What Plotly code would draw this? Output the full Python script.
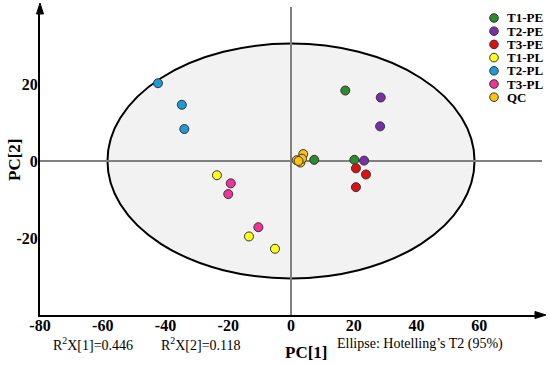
import plotly.graph_objects as go

# ---- data ----
groups = ["T1-PE", "T2-PE", "T3-PE", "T1-PL", "T2-PL", "T3-PL", "QC"]
colors = ["#2E8B2E", "#7B2FA6", "#E01010", "#FFFF1A", "#1E9BD7", "#F0339A", "#FFC20E"]
pc1 = {
    "T1-PE": [17.3, 7.4, 20.2],
    "T2-PE": [28.6, 28.4, 23.3],
    "T3-PE": [20.7, 23.9, 20.7],
    "T1-PL": [-23.6, -13.4, -5.1],
    "T2-PL": [-42.4, -34.8, -34.0],
    "T3-PL": [-19.2, -20.0, -10.4],
    "QC":    [1.8, 3.0, 3.9, 3.5, 2.4],
}
pc2 = {
    "T1-PE": [18.3, 0.3, 0.3],
    "T2-PE": [16.5, 9.0, 0.1],
    "T3-PE": [-1.9, -3.5, -6.8],
    "T1-PL": [-3.7, -19.6, -22.8],
    "T2-PL": [20.2, 14.6, 8.3],
    "T3-PL": [-5.8, -8.6, -17.2],
    "QC":    [0.2, -0.4, 1.8, 0.6, 0.0],
}
ellipse_a = 58.5   # semi-axis on PC[1]
ellipse_b = 30.5   # semi-axis on PC[2]
x_ticks = [-80, -60, -40, -20, 0, 20, 40, 60]
y_ticks = [-20, 0, 20]
r2x = ["R<sup>2</sup>X[1]=0.446", "R<sup>2</sup>X[2]=0.118"]
ellipse_note = "Ellipse: Hotelling’s T2 (95%)"

SERIF = "Liberation Serif, Times New Roman, serif"

fig = go.Figure()

# Hotelling ellipse
fig.add_shape(type="circle", xref="x", yref="y",
              x0=-ellipse_a, x1=ellipse_a, y0=-ellipse_b, y1=ellipse_b,
              fillcolor="#F2F2F2", line=dict(color="black", width=2), layer="below")

for g, c in zip(groups, colors):
    fig.add_trace(go.Scatter(
        x=pc1[g], y=pc2[g], mode="markers", name=g, showlegend=False,
        marker=dict(size=9, color=c, line=dict(color="#333333", width=1)),
    ))

# plot area in pixels: x 40..542, y 7..315
L, R, T, B = 40, 542, 7, 315
W, H = R - L, B - T
def px(x):
    return (x - L) / W
def py(y):
    return (B - y) / H

# manual legend
for i, (g, c) in enumerate(zip(groups, colors)):
    yc = 18 + 13.2 * i
    fig.add_shape(type="circle", xref="paper", yref="paper",
                  x0=px(494 - 4.3), x1=px(494 + 4.3), y0=py(yc + 4.3), y1=py(yc - 4.3),
                  fillcolor=c, line=dict(color="#333333", width=1))
    fig.add_annotation(x=px(506), y=py(yc), xref="paper", yref="paper",
                       text="<b>%s</b>" % g, showarrow=False, xanchor="left", yanchor="middle",
                       height=13, borderpad=0,
                       font=dict(family=SERIF, size=13, color="black"))

# axis arrows
fig.add_shape(type="path", xref="paper", yref="paper",
              path="M %f %f L %f %f L %f %f Z" % (px(36.5), py(14), px(40), py(3), px(43.5), py(14)),
              fillcolor="black", line=dict(color="black", width=1))
fig.add_shape(type="path", xref="paper", yref="paper",
              path="M %f %f L %f %f L %f %f Z" % (px(535), py(311.5), px(546), py(315), px(535), py(318.5)),
              fillcolor="black", line=dict(color="black", width=1))

# bottom texts
for xpix, t in [(93, r2x[0]), (201, r2x[1]), (420, ellipse_note)]:
    fig.add_annotation(x=px(xpix), y=py(344), xref="paper", yref="paper", text=t,
                       showarrow=False, xanchor="center", yanchor="middle",
                       font=dict(family=SERIF, size=14, color="black"))
fig.add_annotation(x=px(306), y=py(352), xref="paper", yref="paper", text="<b>PC[1]</b>",
                   showarrow=False, xanchor="center", yanchor="middle",
                   font=dict(family=SERIF, size=17, color="black"))
fig.add_annotation(x=px(14), y=py(160), xref="paper", yref="paper", text="<b>PC[2]</b>",
                   showarrow=False, xanchor="center", yanchor="middle", textangle=-90,
                   font=dict(family=SERIF, size=17, color="black"))

fig.update_xaxes(range=[-80, 80], tickvals=x_ticks, ticktext=["<b>%d</b>" % v for v in x_ticks],
                 showgrid=False, zeroline=True, zerolinecolor="#808080", zerolinewidth=1.5,
                 showline=True, linecolor="black", linewidth=2, ticks="", ticklen=0,
                 automargin=False, ticklabelstandoff=-5,
                 tickfont=dict(family=SERIF, size=16, color="black"))
fig.update_yaxes(range=[-40, 40], tickvals=y_ticks, ticktext=["<b>%d</b>" % v for v in y_ticks],
                 showgrid=False, zeroline=True, zerolinecolor="#808080", zerolinewidth=1.5,
                 showline=True, linecolor="black", linewidth=2, ticks="", ticklen=0,
                 automargin=False, ticklabelstandoff=-3,
                 tickfont=dict(family=SERIF, size=16, color="black"))

fig.update_layout(width=550, height=365, margin=dict(l=L, r=550 - R, t=T, b=365 - B),
                  plot_bgcolor="white", paper_bgcolor="white", showlegend=False)

fig.write_html("out.html", config={"displayModeBar": False},
               post_script="document.body.style.margin='0';document.body.style.overflow='hidden';")
